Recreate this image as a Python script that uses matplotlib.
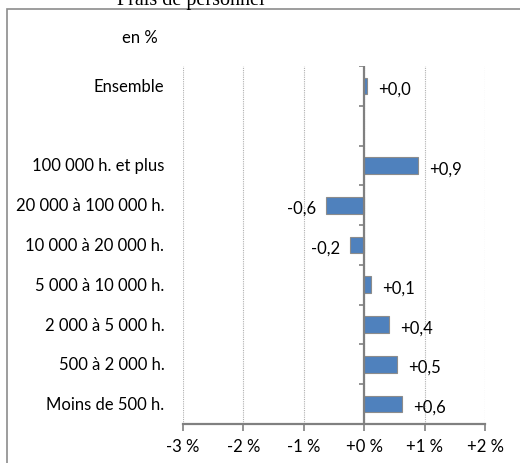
import numpy as np
import matplotlib
matplotlib.use("Agg")
import matplotlib.pyplot as plt
import matplotlib.transforms as mtransforms
from matplotlib.patches import Rectangle

categories = ["Ensemble", "", "100 000 h. et plus", "20 000 à 100 000 h.",
              "10 000 à 20 000 h.", "5 000 à 10 000 h.", "2 000 à 5 000 h.",
              "500 à 2 000 h.", "Moins de 500 h."]
values = [0.04, np.nan, 0.89, -0.64, -0.23, 0.12, 0.41, 0.54, 0.62]
xticks = [-3, -2, -1, 0, 1, 2]
xticklabels = ["-3 %", "-2 %", "-1 %", "+0 %", "+1 %", "+2 %"]
title = "Frais de personnel"
unit = "en %"

FS = 12
AXC = "#808080"
plt.rcParams['font.family'] = ['Lato', 'DejaVu Sans']
fig = plt.figure(figsize=(5.2, 4.64), dpi=100)
ax = fig.add_axes([183/520, 1-425/464, (485-183)/520, (425-67)/464])

pos = np.arange(len(categories))
bar_color = "#4F81BD"
vals = np.array(values, dtype=float)
mask = ~np.isnan(vals)
ax.barh(pos[mask], vals[mask], height=0.42, color=bar_color,
        edgecolor="#8C8C8C", linewidth=0.8, zorder=3)

for p, v in zip(pos[mask], vals[mask]):
    s = f"{v:+.1f}".replace(".", ",")
    if v >= 0:
        ax.annotate(s, (v, p), xytext=(8, -2), textcoords="offset points",
                    ha="left", va="center", fontsize=FS, color="black")
    else:
        ax.annotate(s, (v, p), xytext=(-7, -2), textcoords="offset points",
                    ha="right", va="center", fontsize=FS, color="black")

ax.set_xlim(-3, 2)
ymin, ymax = len(categories) - 0.5, -0.5
ax.set_ylim(ymin, ymax)
ax.set_xticks(xticks)
ax.set_xticklabels(xticklabels, fontsize=FS)
ax.tick_params(axis="x", length=5, width=1.2, color=AXC, pad=5, direction="out")

ax.grid(axis="x", linestyle=(0, (1, 1)), color="#B0B0B0", linewidth=0.8)
ax.set_axisbelow(True)

# zero axis with category-boundary ticks
ax.spines["left"].set_visible(False)
ax.vlines(0, ymax, ymin, color=AXC, linewidth=1.6, zorder=6)
yaxis_ticks = np.arange(len(categories)+1) - 0.5
ax.hlines(yaxis_ticks, -0.085, 0, color=AXC, linewidth=1.2, zorder=6)
ax.set_yticks([])

# category labels at the left of the plot area
trans = mtransforms.blended_transform_factory(ax.transAxes, ax.transData)
for p, c in zip(pos, categories):
    ax.text(-0.062, p, c, transform=trans, ha="right", va="center", fontsize=FS)

for s in ["top", "right"]:
    ax.spines[s].set_visible(False)
ax.spines["bottom"].set_color(AXC)
ax.spines["bottom"].set_linewidth(1.6)

fig.text(140/520, 1-38/464, unit, ha="center", va="center", fontsize=FS)
fig.text(191/520, 1-5/464, title, ha="center", va="baseline", fontsize=14.5,
         family="Liberation Serif")

fig.add_artist(Rectangle((7/520, -0.05), 1.2, 1-10/464+0.05, transform=fig.transFigure,
                         fill=False, edgecolor="#8C8C8C", linewidth=1.2))

fig.savefig("out.png", dpi=100)
